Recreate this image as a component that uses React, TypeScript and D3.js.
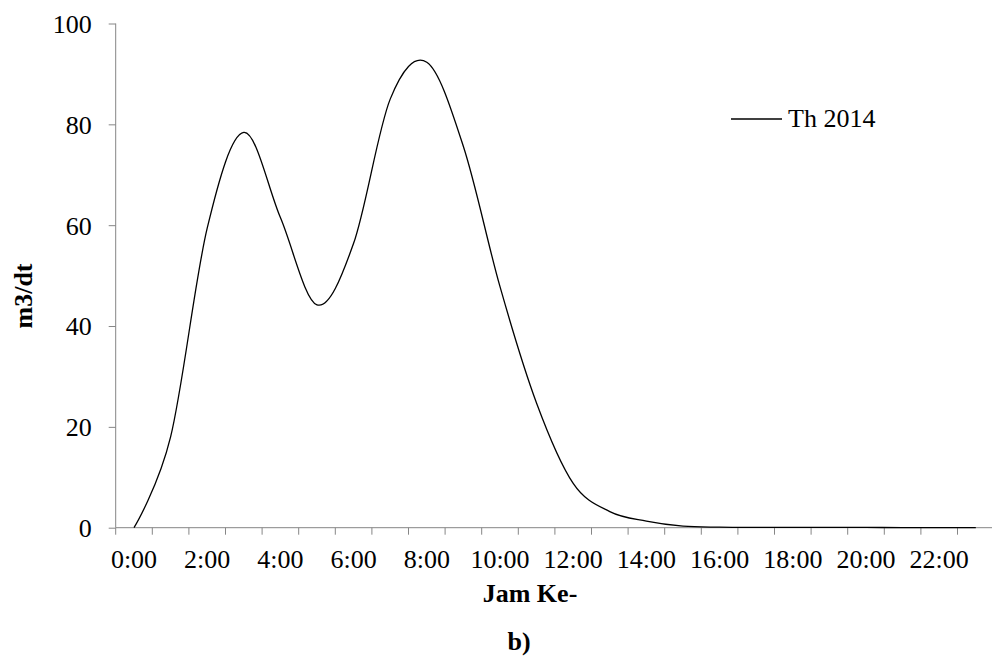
import React, { useEffect, useRef } from 'react';
import * as d3 from 'd3';

// hourly categories 0:00 .. 23:00
const hours: string[] = d3.range(24).map(h => `${h}:00`);

// Th 2014 discharge (m3/dt)
const th2014: number[] = [
  0, 18, 59.4, 78.4, 61.5, 44.2, 56.4, 85.0, 92.3, 75.6, 47.8, 24.7,
  8.8, 3.2, 1.3, 0.3, 0.1, 0.05, 0.05, 0.05, 0.05, 0.03, 0.02, 0.02,
];

const yTicks: number[] = [0, 20, 40, 60, 80, 100];
const seriesName = 'Th 2014';
const xTitle = 'Jam Ke-';
const yTitle = 'm3/dt';
const caption = 'b)';

const FONT = '"Liberation Serif", "Times New Roman", serif';
const AXIS_COLOR = '#868686';

const App: React.FC = () => {
  const svgRef = useRef<SVGSVGElement | null>(null);
  const width = 992;
  const height = 656;

  useEffect(() => {
    if (!svgRef.current) return;
    const svg = d3.select(svgRef.current);
    svg.selectAll('*').remove();

    const left = 115.7;
    const top = 23.5;
    const bottom = 527.7;
    const step = 36.6;

    const x = d3.scaleBand<string>()
      .domain(hours)
      .range([left, left + step * hours.length])
      .padding(0);

    const y = d3.scaleLinear()
      .domain([0, 100])
      .range([bottom, top]);

    const cx = (h: string) => (x(h) || 0) + x.bandwidth() / 2;

    // y axis
    const yAxis = svg.append('g').attr('transform', `translate(${left},0)`)
      .call(d3.axisLeft(y).tickValues(yTicks).tickSize(7).tickPadding(17).tickFormat(d3.format('d')));
    yAxis.select('.domain').attr('stroke', AXIS_COLOR).attr('d', `M0,${y(100)}V${y(0)}`);
    yAxis.selectAll('.tick line').attr('stroke', AXIS_COLOR);
    yAxis.selectAll('.tick text')
      .attr('fill', '#000')
      .style('font-family', FONT)
      .style('font-size', '26px')
      .attr('dy', '0.34em');

    // x axis: ticks between categories, label every 2nd hour
    const xg = svg.append('g');
    xg.append('line')
      .attr('x1', left).attr('x2', width)
      .attr('y1', bottom).attr('y2', bottom)
      .attr('stroke', AXIS_COLOR);
    const bounds = hours.map(h => x(h) || 0).concat([x.range()[1]]);
    xg.selectAll('line.tk')
      .data(bounds)
      .enter().append('line')
      .attr('class', 'tk')
      .attr('x1', d => d).attr('x2', d => d)
      .attr('y1', bottom).attr('y2', bottom + 7)
      .attr('stroke', AXIS_COLOR);
    xg.selectAll('text')
      .data(hours.filter((_, i) => i % 2 === 0))
      .enter().append('text')
      .attr('x', d => cx(d))
      .attr('y', 568)
      .attr('text-anchor', 'middle')
      .style('font-family', FONT)
      .style('font-size', '26px')
      .text(d => d);

    // series line
    const line = d3.line<number>()
      .x((_, i) => cx(hours[i]))
      .y(d => y(d))
      .curve(d3.curveCardinal.tension(0));

    svg.append('path')
      .datum(th2014)
      .attr('d', line)
      .attr('fill', 'none')
      .attr('stroke', '#000')
      .attr('stroke-width', 1.3);

    // legend
    svg.append('line')
      .attr('x1', 731).attr('x2', 782)
      .attr('y1', 119).attr('y2', 119)
      .attr('stroke', '#000')
      .attr('stroke-width', 1.3);
    svg.append('text')
      .attr('x', 788).attr('y', 126.7)
      .style('font-family', FONT)
      .style('font-size', '26px')
      .text(seriesName);

    // titles
    svg.append('text')
      .attr('x', 530).attr('y', 601.5)
      .attr('text-anchor', 'middle')
      .style('font-family', FONT)
      .style('font-size', '26px')
      .style('font-weight', 'bold')
      .text(xTitle);

    svg.append('text')
      .attr('transform', `translate(32,296) rotate(-90)`)
      .attr('text-anchor', 'middle')
      .style('font-family', FONT)
      .style('font-size', '26px')
      .style('font-weight', 'bold')
      .text(yTitle);

    svg.append('text')
      .attr('x', 519).attr('y', 650)
      .attr('text-anchor', 'middle')
      .style('font-family', FONT)
      .style('font-size', '26px')
      .style('font-weight', 'bold')
      .text(caption);
  }, []);

  return (
    <svg
      ref={svgRef}
      width={width}
      height={height}
      style={{ position: 'absolute', left: 0, top: 0, background: '#fff' }}
    />
  );
};

export default App;
